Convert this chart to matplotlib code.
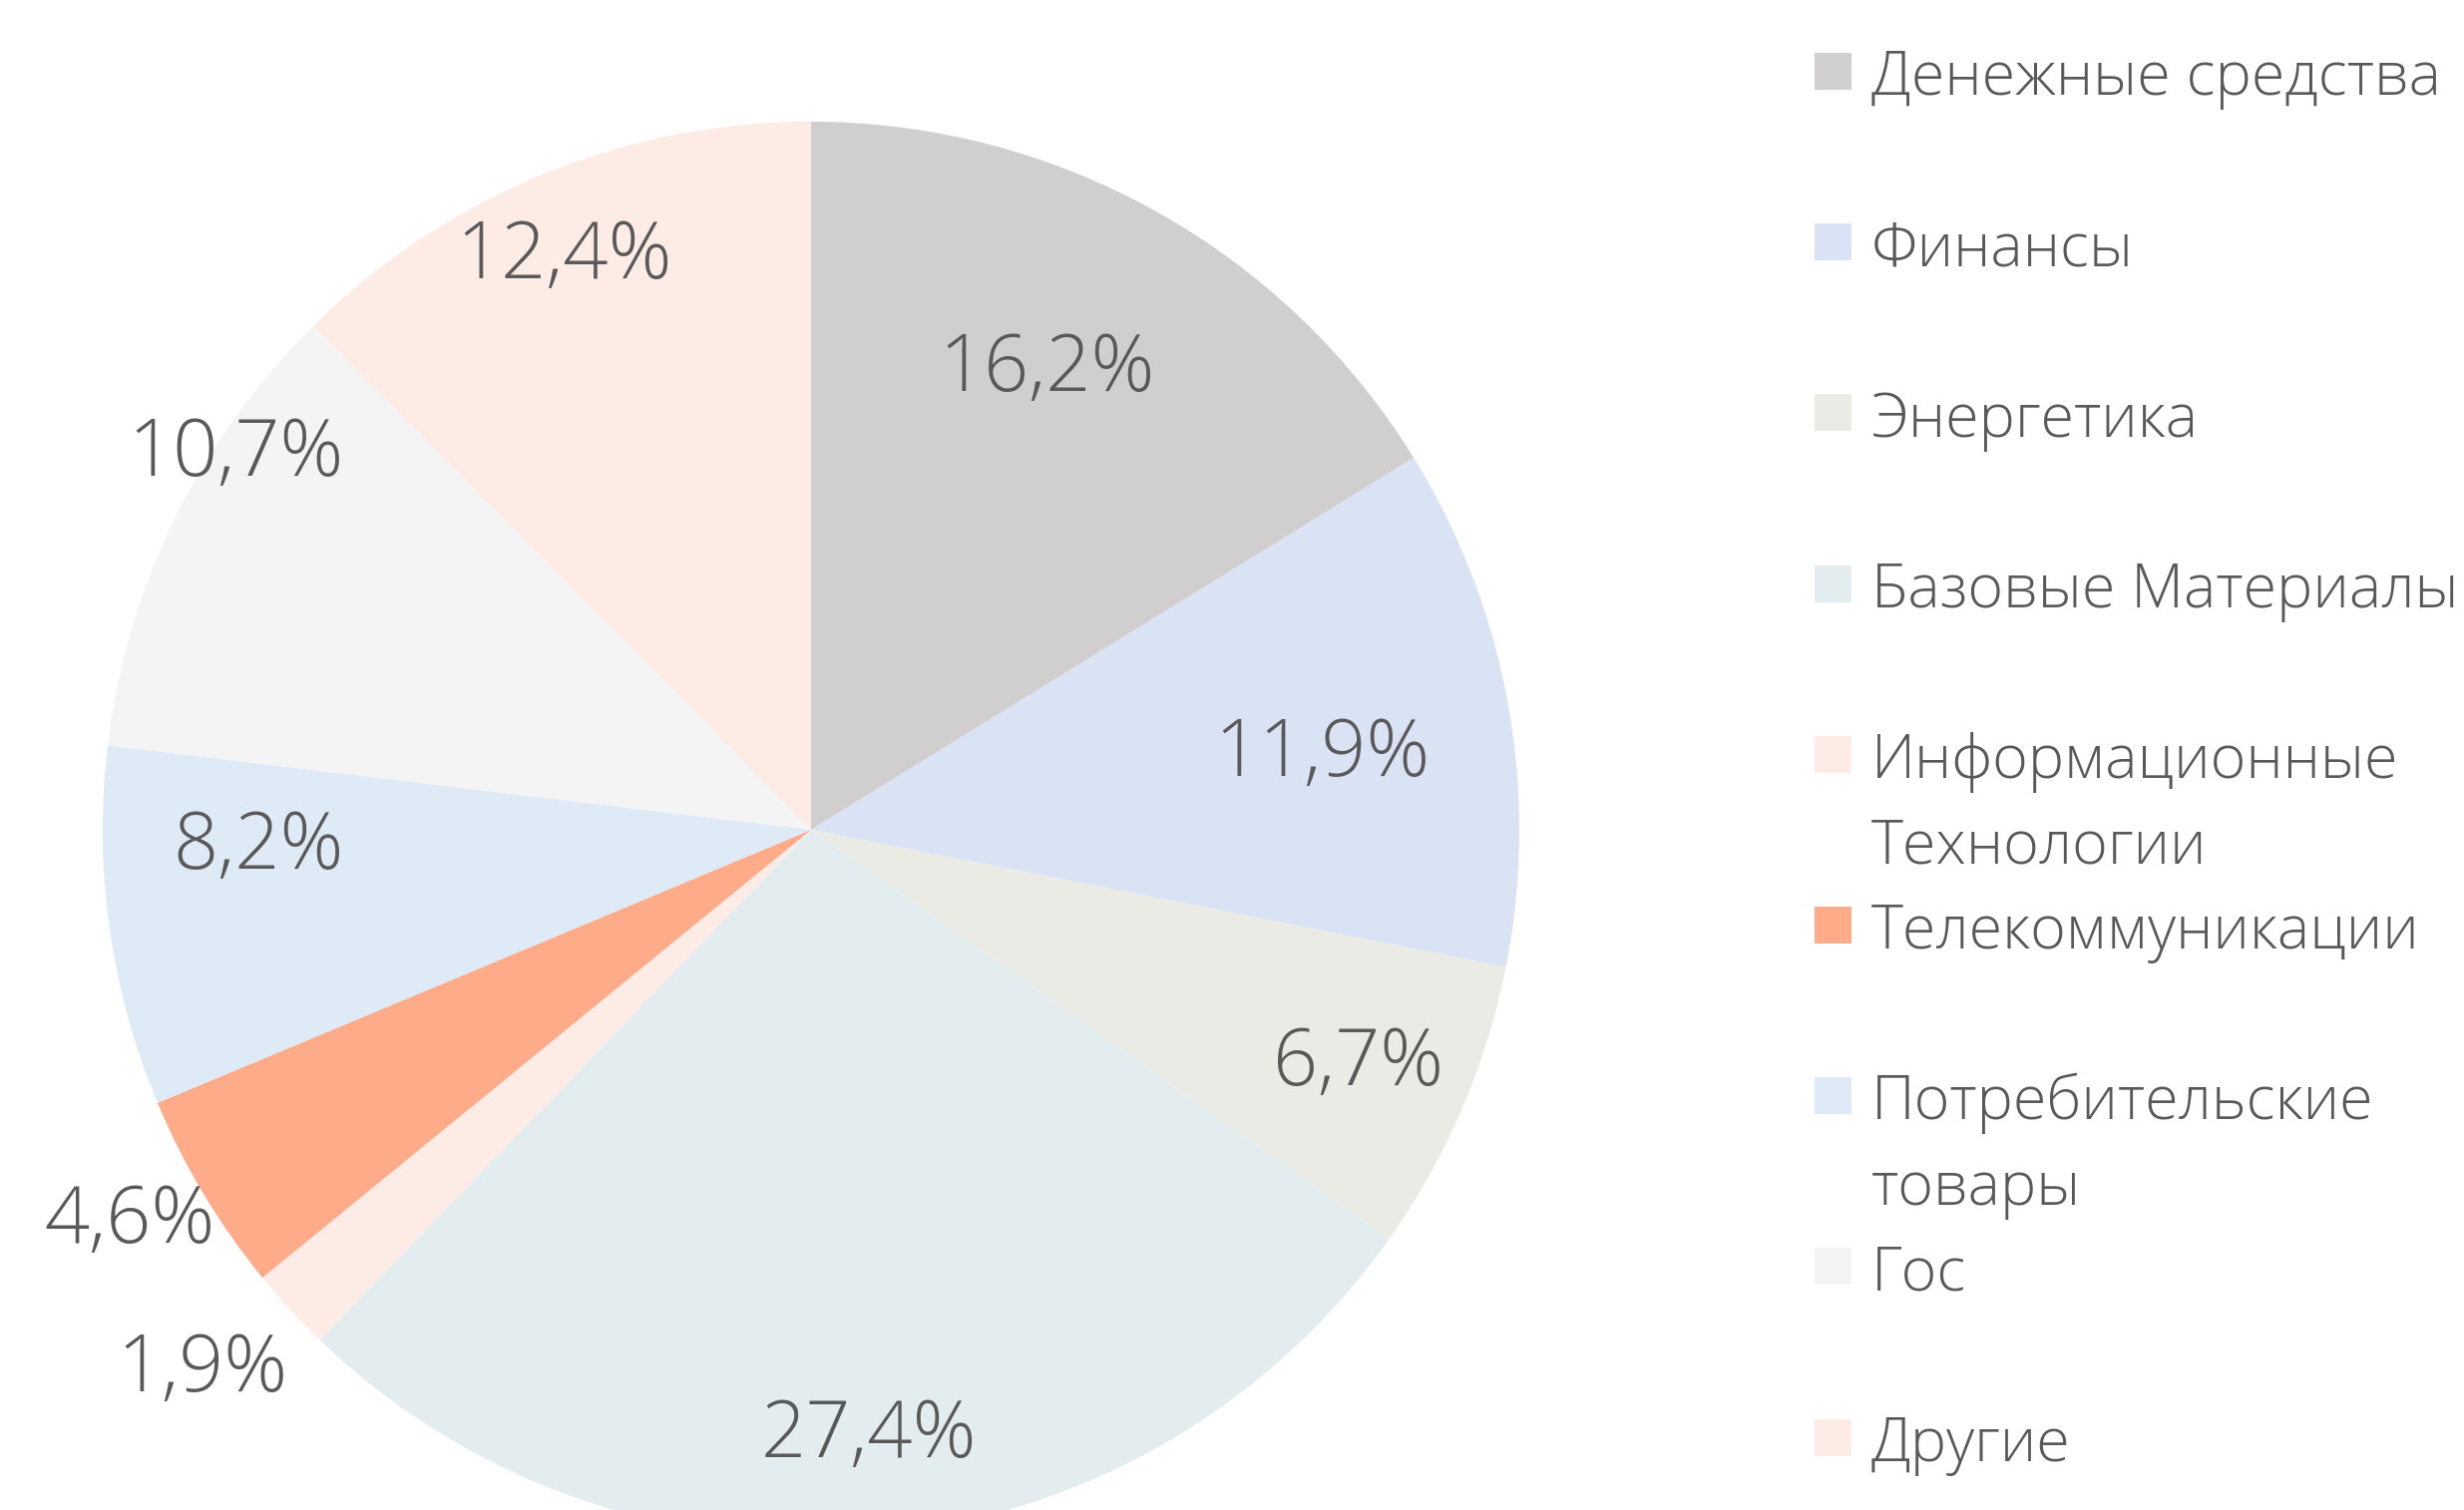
import numpy as np
import matplotlib
matplotlib.use("Agg")
import matplotlib.pyplot as plt
from matplotlib.patches import Rectangle

# sector shares, %, clockwise from 12 o'clock
sectors = ["Денежные средства", "Финансы", "Энергетика", "Базовые Материалы",
           "Информационные\nТехнологии", "Телекоммуникации",
           "Потребительские\nтовары", "Гос", "Другие"]
shares = [16.2, 11.9, 6.7, 27.4, 1.9, 4.6, 8.2, 10.7, 12.4]
colors = ["#d0cecf", "#dae3f3", "#ebebe5", "#e3edf0", "#fdebe6",
          "#fdab88", "#deeaf6", "#f4f4f4", "#fdebe6"]

# label placement (radius as fraction of pie radius, angle tweak in degrees)
label_dist = [0.73, 0.73, 0.84, 0.86, 1.15, 1.11, 0.78, 0.97, 0.88]
label_turn = [2, -2, 0, 0, -1, -1, -6, -7, 1]

TXT = "#595959"
FONT = "Open Sans"

W, H = 2470, 1514
fig = plt.figure(figsize=(W / 100, H / 100), dpi=100)
cx, cy, R = 813, 832, 710
ax = fig.add_axes([(cx - R) / W, (H - cy - R) / H, 2 * R / W, 2 * R / H])

wedges, _ = ax.pie(shares, colors=colors, startangle=90, counterclock=False,
                   radius=1, wedgeprops=dict(linewidth=0))
ax.set_xlim(-1, 1)
ax.set_ylim(-1, 1)
ax.axis("off")

for w, v, d, t in zip(wedges, shares, label_dist, label_turn):
    a = np.deg2rad((w.theta1 + w.theta2) / 2 + t)
    ax.text(d * np.cos(a), d * np.sin(a), f"{v:.1f}%".replace(".", ","),
            ha="center", va="center", fontsize=57, color=TXT,
            family=FONT, fontweight="light", clip_on=False)

# legend drawn by hand: every entry takes two text lines
line_h = 85.6
y0 = 72
for i, (name, c) in enumerate(zip(sectors, colors)):
    y = y0 + 2 * i * line_h
    fig.patches.append(Rectangle((1819 / W, 1 - (y + 18) / H), 37 / W, 37 / H,
                                 transform=fig.transFigure, color=c, lw=0))
    for k, part in enumerate(name.split("\n")):
        fig.text(1876 / W, 1 - (y + k * line_h) / H, part, ha="left",
                 va="center_baseline", fontsize=44, color=TXT, family=FONT,
                 fontweight="light")

plt.savefig("out.png", dpi=100)
